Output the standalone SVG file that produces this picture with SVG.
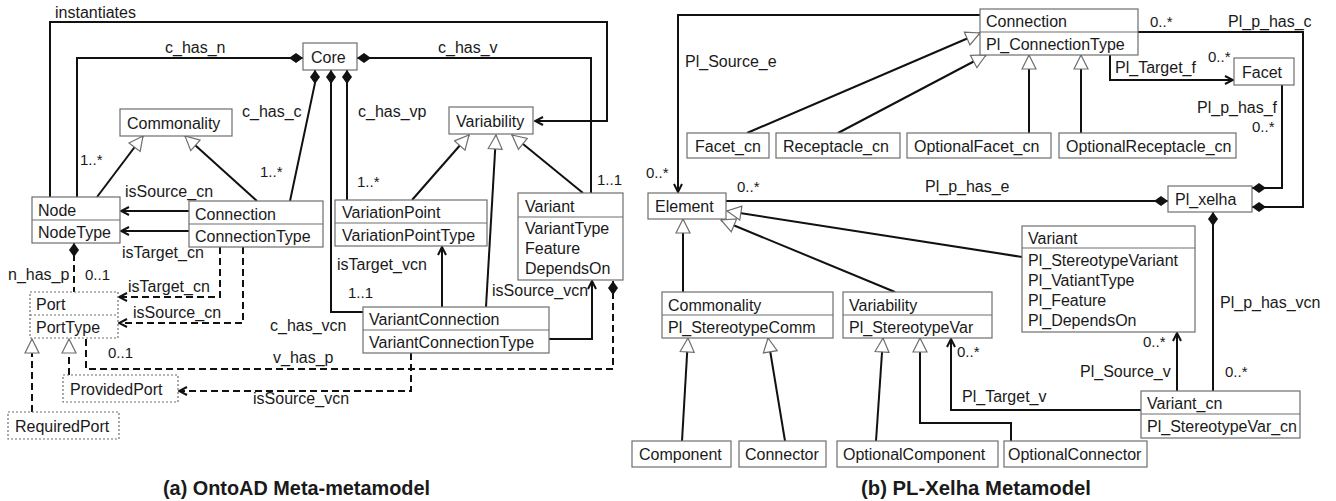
<svg xmlns="http://www.w3.org/2000/svg" width="1336" height="501" viewBox="0 0 1336 501">
<style>
  text { font-family: "Liberation Sans", Arial, sans-serif; font-size: 16px; fill: #1a1a1a; }
  .m { font-size: 15px; }
  .cap { font-size: 20px; font-weight: bold; }
  .box { fill: #fff; stroke: #6e6e6e; stroke-width: 1.2; }
  .dot { fill: #fff; stroke: #6e6e6e; stroke-width: 1.2; stroke-dasharray: 2 2; }
  .div { stroke: #6e6e6e; stroke-width: 1.2; }
  .ddiv { stroke: #6e6e6e; stroke-width: 1.2; stroke-dasharray: 2 2; }
  .ln { fill: none; stroke: #111; stroke-width: 2; }
  .dash { fill: none; stroke: #111; stroke-width: 2; stroke-dasharray: 7 4; }
  .gen { marker-end: url(#tri); }
  .arr { marker-end: url(#arrow); }
  .comp { marker-start: url(#dia); }
</style>
<defs>
  <marker id="arrow" viewBox="0 0 10 10" refX="9" refY="5" markerWidth="10" markerHeight="10" markerUnits="userSpaceOnUse" orient="auto">
    <path d="M1,1 L9,5 L1,9" fill="none" stroke="#111" stroke-width="2"/>
  </marker>
  <marker id="tri" viewBox="0 0 16 16" refX="15" refY="8" markerWidth="16" markerHeight="16" markerUnits="userSpaceOnUse" orient="auto">
    <path d="M1,1 L15,8 L1,15 z" fill="#fff" stroke="#6e6e6e" stroke-width="1.2"/>
  </marker>
  <marker id="dia" viewBox="0 0 14 10" refX="0" refY="5" markerWidth="14" markerHeight="10" markerUnits="userSpaceOnUse" orient="auto">
    <path d="M0,5 L7,0 L14,5 L7,10 z" fill="#111"/>
  </marker>
</defs>

<!-- ===== (a) OntoAD Meta-metamodel ===== -->
<g id="connectors-a">
  <path class="ln arr" d="M50,197 V22 H607 V121 H535"/>
  <path class="ln comp" d="M303,58 H77 V197"/>
  <path class="ln comp" d="M357,58 H591 V193"/>
  <path class="ln comp" d="M315,70 V83 L290,201"/>
  <path class="ln comp" d="M331,70 V312 H363"/>
  <path class="ln comp" d="M347,70 V200"/>
  <path class="ln gen" d="M97,197 L143,136"/>
  <path class="ln gen" d="M257,201 L185,136"/>
  <path class="ln gen" d="M412,200 L469,135"/>
  <path class="ln gen" d="M486,307 L496,135"/>
  <path class="ln gen" d="M583,193 L512,135"/>
  <path class="ln arr" d="M189,211 H121"/>
  <path class="ln arr" d="M189,231 H121"/>
  <path class="ln arr" d="M442,307 V247"/>
  <path class="ln arr" d="M549,339 H592 V281"/>
  <path class="dash comp" d="M74,243 V292"/>
  <path class="dash arr" d="M220,247 V297 H119"/>
  <path class="dash arr" d="M243,247 V323 H119"/>
  <path class="dash comp" d="M613,281 V369 H86 V339"/>
  <path class="dash arr" d="M411,353 V391 H179"/>
  <path class="dash gen" d="M32,412 V339"/>
  <path class="dash gen" d="M69,375 V339"/>
</g>

<g id="core"><rect class="box" x="303" y="43" width="54" height="27"/><text x="311" y="63">Core</text></g>
<g id="commonality-a"><rect class="box" x="120" y="109" width="112" height="27"/><text x="127" y="129">Commonality</text></g>
<g id="variability-a"><rect class="box" x="449" y="107" width="84" height="27"/><text x="456" y="127">Variability</text></g>
<g id="node"><rect class="box" x="32" y="197" width="88" height="46"/><line class="div" x1="32" y1="220" x2="120" y2="220"/><text x="38" y="216">Node</text><text x="38" y="238">NodeType</text></g>
<g id="connection-a"><rect class="box" x="189" y="201" width="134" height="46"/><line class="div" x1="189" y1="224" x2="323" y2="224"/><text x="195" y="220">Connection</text><text x="195" y="242">ConnectionType</text></g>
<g id="variationpoint"><rect class="box" x="335" y="200" width="152" height="46"/><line class="div" x1="335" y1="223" x2="487" y2="223"/><text x="342" y="218">VariationPoint</text><text x="342" y="241">VariationPointType</text></g>
<g id="variant-a"><rect class="box" x="518" y="193" width="105" height="87"/><line class="div" x1="518" y1="217" x2="623" y2="217"/><text x="525" y="212">Variant</text><text x="525" y="234">VariantType</text><text x="525" y="254">Feature</text><text x="525" y="274">DependsOn</text></g>
<g id="variantconnection"><rect class="box" x="363" y="307" width="186" height="46"/><line class="div" x1="363" y1="330" x2="549" y2="330"/><text x="369" y="325">VariantConnection</text><text x="369" y="348">VariantConnectionType</text></g>
<g id="port"><rect class="dot" x="30" y="292" width="88" height="46"/><line class="ddiv" x1="30" y1="315" x2="118" y2="315"/><text x="36" y="310">Port</text><text x="36" y="333">PortType</text></g>
<g id="providedport"><rect class="dot" x="63" y="375" width="115" height="27"/><text x="70" y="395">ProvidedPort</text></g>
<g id="requiredport"><rect class="dot" x="8" y="412" width="111" height="27"/><text x="15" y="432">RequiredPort</text></g>

<g id="labels-a">
  <text x="55" y="18">instantiates</text>
  <text x="165" y="53">c_has_n</text>
  <text x="438" y="53">c_has_v</text>
  <text x="242" y="117">c_has_c</text>
  <text x="358" y="117">c_has_vp</text>
  <text class="m" x="80" y="165">1..*</text>
  <text class="m" x="260" y="177">1..*</text>
  <text class="m" x="357" y="187">1..*</text>
  <text class="m" x="597" y="185">1..1</text>
  <text x="125" y="197">isSource_cn</text>
  <text x="122" y="258">isTarget_cn</text>
  <text x="8" y="280">n_has_p</text>
  <text class="m" x="85" y="280">0..1</text>
  <text x="128" y="292">isTarget_cn</text>
  <text x="133" y="318">isSource_cn</text>
  <text x="337" y="270">isTarget_vcn</text>
  <text class="m" x="348" y="298">1..1</text>
  <text x="492" y="296">isSource_vcn</text>
  <text x="270" y="331">c_has_vcn</text>
  <text class="m" x="108" y="358">0..1</text>
  <text x="273" y="363">v_has_p</text>
  <text x="253" y="404">isSource_vcn</text>
  <text class="cap" x="163" y="495" textLength="267" lengthAdjust="spacingAndGlyphs">(a) OntoAD Meta-metamodel</text>
</g>

<!-- ===== (b) PL-Xelha Metamodel ===== -->
<g id="connectors-b">
  <path class="ln arr" d="M980,15 H678 V192"/>
  <path class="ln comp" d="M1168,201 H726"/>
  <path class="ln comp" d="M1252,207 H1303 V32 H1138"/>
  <path class="ln comp" d="M1252,188 H1282 V85"/>
  <path class="ln comp" d="M1213,212 V391"/>
  <path class="ln arr" d="M1110,55 V80 H1233"/>
  <path class="ln arr" d="M1177,391 V333"/>
  <path class="ln arr" d="M1141,410 H951 V339"/>
  <path class="ln gen" d="M747,133 L980,33"/>
  <path class="ln gen" d="M838,133 L986,55"/>
  <path class="ln gen" d="M1029,133 V55"/>
  <path class="ln gen" d="M1081,133 V55"/>
  <path class="ln gen" d="M1022,257 L727,211"/>
  <path class="ln gen" d="M895,292 L721,220"/>
  <path class="ln gen" d="M683,292 V219"/>
  <path class="ln gen" d="M682,441 L688,338"/>
  <path class="ln gen" d="M785,441 L768,338"/>
  <path class="ln gen" d="M876,441 L883,338"/>
  <path class="ln gen" d="M1011,441 V423 H920 V338"/>
</g>

<g id="connection-b"><rect class="box" x="980" y="9" width="158" height="46"/><line class="div" x1="980" y1="32" x2="1138" y2="32"/><text x="986" y="27">Connection</text><text x="986" y="50">Pl_ConnectionType</text></g>
<g id="facet"><rect class="box" x="1234" y="58" width="60" height="27"/><text x="1242" y="78">Facet</text></g>
<g id="facet-cn"><rect class="box" x="687" y="133" width="82" height="25"/><text x="695" y="152">Facet_cn</text></g>
<g id="receptacle-cn"><rect class="box" x="776" y="133" width="124" height="25"/><text x="783" y="152">Receptacle_cn</text></g>
<g id="optionalfacet-cn"><rect class="box" x="907" y="133" width="144" height="25"/><text x="914" y="152">OptionalFacet_cn</text></g>
<g id="optionalreceptacle-cn"><rect class="box" x="1059" y="133" width="177" height="25"/><text x="1066" y="152">OptionalReceptacle_cn</text></g>
<g id="element"><rect class="box" x="648" y="193" width="78" height="26"/><text x="655" y="212">Element</text></g>
<g id="pl-xelha"><rect class="box" x="1168" y="186" width="84" height="26"/><text x="1175" y="205">Pl_xelha</text></g>
<g id="variant-b"><rect class="box" x="1022" y="226" width="173" height="106"/><line class="div" x1="1022" y1="248" x2="1195" y2="248"/><text x="1028" y="244">Variant</text><text x="1028" y="266">Pl_StereotypeVariant</text><text x="1028" y="286">Pl_VatiantType</text><text x="1028" y="306">Pl_Feature</text><text x="1028" y="326">Pl_DependsOn</text></g>
<g id="commonality-b"><rect class="box" x="662" y="292" width="171" height="46"/><line class="div" x1="662" y1="315" x2="833" y2="315"/><text x="668" y="311">Commonality</text><text x="668" y="333">Pl_StereotypeComm</text></g>
<g id="variability-b"><rect class="box" x="843" y="292" width="149" height="46"/><line class="div" x1="843" y1="315" x2="992" y2="315"/><text x="849" y="311">Variability</text><text x="849" y="333">Pl_StereotypeVar</text></g>
<g id="variant-cn"><rect class="box" x="1141" y="391" width="159" height="47"/><line class="div" x1="1141" y1="414" x2="1300" y2="414"/><text x="1147" y="409">Variant_cn</text><text x="1147" y="432">Pl_StereotypeVar_cn</text></g>
<g id="component"><rect class="box" x="632" y="441" width="99" height="26"/><text x="639" y="460">Component</text></g>
<g id="connector"><rect class="box" x="739" y="441" width="87" height="26"/><text x="745" y="460">Connector</text></g>
<g id="optionalcomponent"><rect class="box" x="837" y="441" width="161" height="26"/><text x="843" y="460">OptionalComponent</text></g>
<g id="optionalconnector"><rect class="box" x="1004" y="441" width="143" height="26"/><text x="1008" y="460">OptionalConnector</text></g>

<g id="labels-b">
  <text x="685" y="67">Pl_Source_e</text>
  <text class="m" x="646" y="178">0..*</text>
  <text class="m" x="737" y="192">0..*</text>
  <text x="925" y="192">Pl_p_has_e</text>
  <text class="m" x="1150" y="27">0..*</text>
  <text x="1228" y="27">Pl_p_has_c</text>
  <text x="1115" y="73">Pl_Target_f</text>
  <text class="m" x="1208" y="62">0..*</text>
  <text x="1197" y="113">Pl_p_has_f</text>
  <text class="m" x="1252" y="132">0..*</text>
  <text x="1220" y="308">Pl_p_has_vcn</text>
  <text class="m" x="1143" y="347">0..*</text>
  <text x="1080" y="377">Pl_Source_v</text>
  <text class="m" x="1225" y="377">0..*</text>
  <text class="m" x="957" y="357">0..*</text>
  <text x="962" y="402">Pl_Target_v</text>
  <text class="cap" x="861" y="495" textLength="230" lengthAdjust="spacingAndGlyphs">(b) PL-Xelha Metamodel</text>
</g>
</svg>
